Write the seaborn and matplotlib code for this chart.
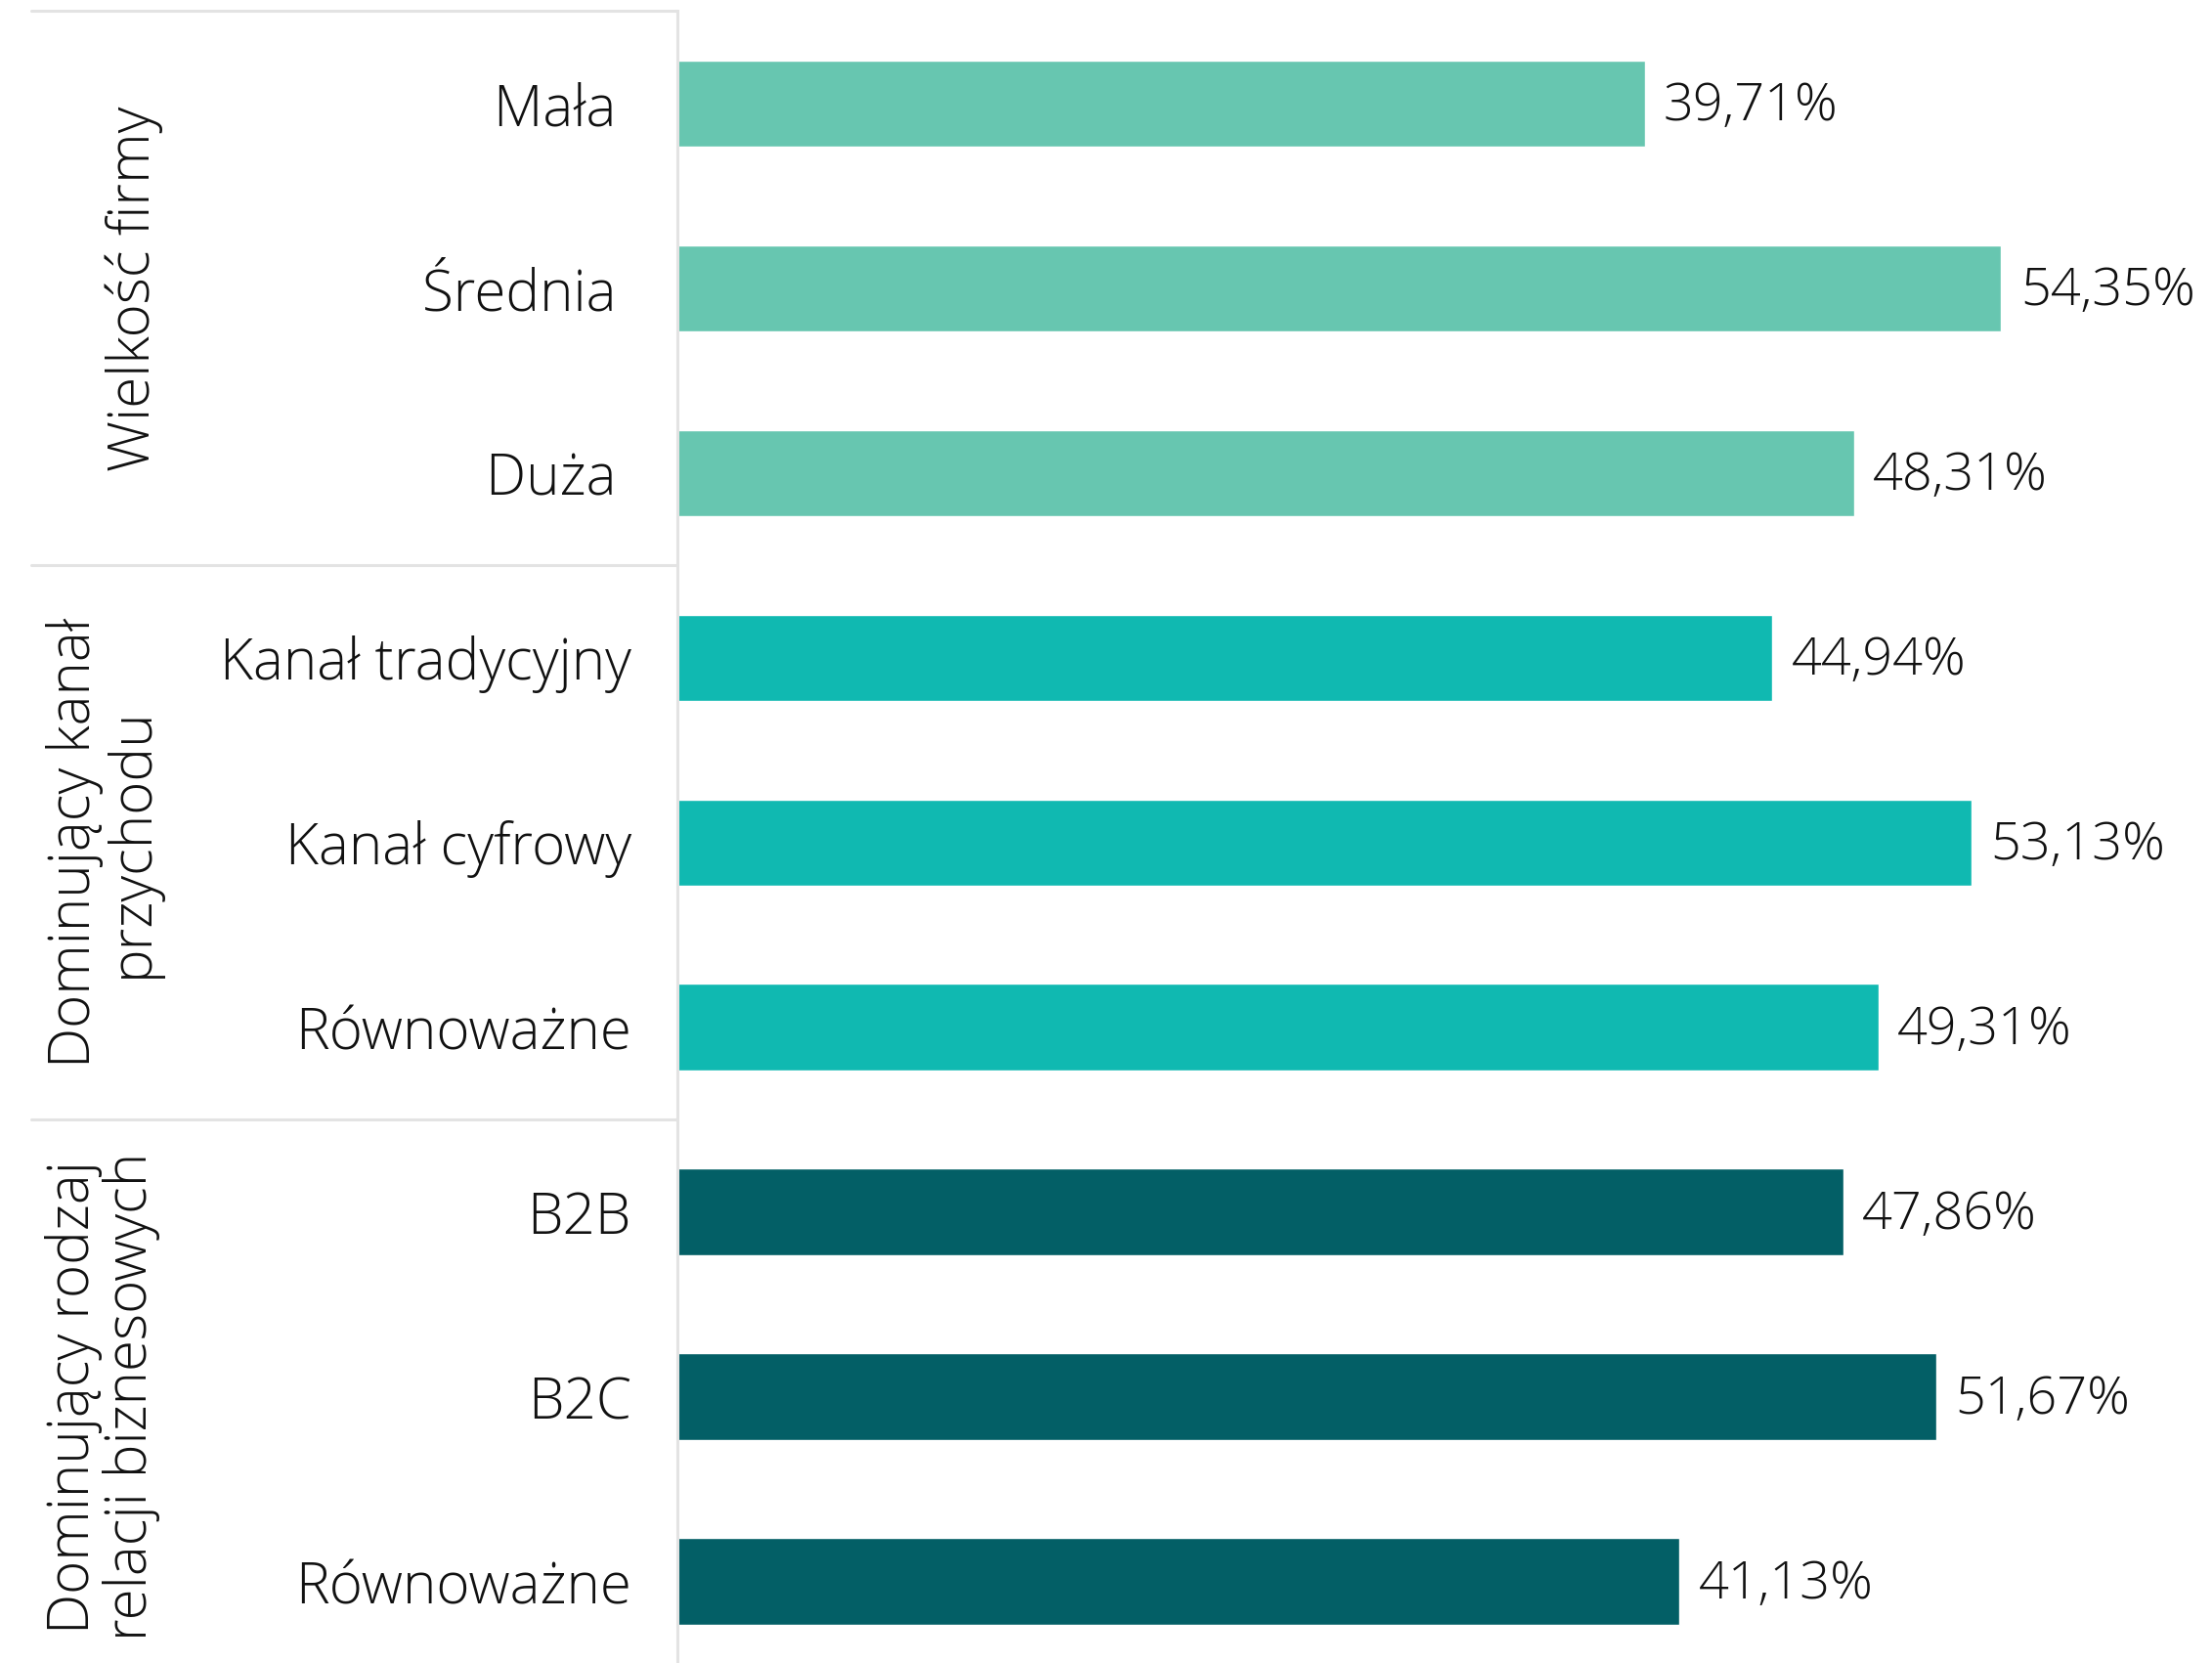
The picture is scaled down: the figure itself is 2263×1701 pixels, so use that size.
import matplotlib
matplotlib.use("Agg")
import matplotlib.pyplot as plt
import matplotlib.transforms as mtransforms
import seaborn as sns
import pandas as pd

# ---- data ----
groups = ["Wielkość firmy", "Dominujący kanał\nprzychodu", "Dominujący rodzaj\nrelacji biznesowych"]
group_of_row = [0, 0, 0, 1, 1, 1, 2, 2, 2]
labels = ["Mała ", "Średnia ", "Duża ", "Kanał tradycyjny", "Kanał cyfrowy", "Równoważne",
          "B2B", "B2C", "Równoważne"]
values = [39.71, 54.35, 48.31, 44.94, 53.13, 49.31, 47.86, 51.67, 41.13]
colors = ["#67C6B0", "#10B9B1", "#035F66"]

sns.set_theme(style="white")
plt.rcParams["font.family"] = ["Open Sans", "DejaVu Sans"]
FW = 300
FS_TICK = 42
FS_VAL = 39
FS_GRP = 42

df = pd.DataFrame({
    "key": [f"{i}" for i in range(len(labels))],
    "label": labels,
    "value": values,
    "group": [groups[g] for g in group_of_row],
})

W, H, DPI = 2263, 1701, 100
fig = plt.figure(figsize=(W / DPI, H / DPI), dpi=DPI)
ax = fig.add_axes([693 / W, 0, 1 - 693 / W, 1 - 11.5 / H])

sns.barplot(data=df, x="value", y="key", hue="group", palette=colors,
            dodge=False, orient="h", width=0.47, legend=False, ax=ax,
            saturation=1)

ax.set_xlim(0, 63.0)
ax.set_ylim(8.44, -0.5)
ax.set_xlabel("")
ax.set_ylabel("")
ax.set_xticks([])
ax.set_yticks(range(len(labels)))
ax.set_yticklabels(labels, fontsize=FS_TICK, fontweight=FW, color="#111111")
ax.tick_params(axis="y", length=0, pad=34)

for s in ["top", "right", "bottom"]:
    ax.spines[s].set_visible(False)
ax.spines["left"].set_color("#E3E3E3")
ax.spines["left"].set_linewidth(2.2)

for c in ax.containers:
    texts = ax.bar_label(c, fmt=lambda v: f"{v:.2f}%".replace(".", ","), padding=14,
                         fontsize=FS_VAL, fontweight=FW, color="#111111")
    for t in texts:
        t.xyann = (14, -2.5)

# group separators
tr = mtransforms.blended_transform_factory(fig.transFigure, ax.transData)
for yv in [-0.5, 2.5, 5.5]:
    ax.plot([32 / W, 693 / W], [yv, yv], transform=tr, color="#E3E3E3",
            lw=2.2, clip_on=False)

# group titles
gx = [137 / W, 106 / W, 105 / W]
gy = [1, 4, 7]
for g, x, y in zip(groups, gx, gy):
    ax.text(x, y, g, transform=tr, rotation=90, ha="center", va="center",
            multialignment="center", fontsize=FS_GRP, fontweight=FW,
            color="#111111", linespacing=1.0)

fig.savefig("out.png", dpi=DPI)
